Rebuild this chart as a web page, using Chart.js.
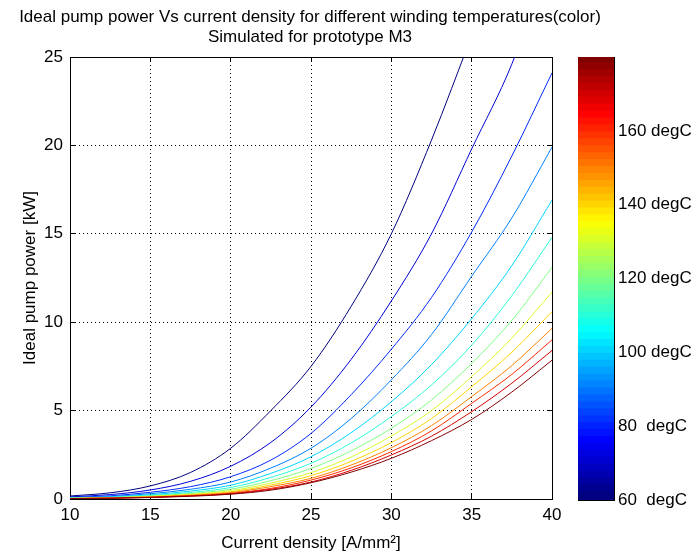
<!DOCTYPE html>
<html>
<head>
<meta charset="utf-8">
<script src="https://cdn.jsdelivr.net/npm/chart.js@4.4.1/dist/chart.umd.min.js"></script>
<style>
  body { margin: 0; background: #fff; }
  #wrap { position: relative; width: 697px; height: 552px; }
  canvas { position: absolute; top: 0; }
</style>
</head>
<body>
<div id="wrap">
  <canvas id="pump" width="697" height="552" style="left:0"></canvas>
  <canvas id="cbar" width="137" height="552" style="left:560px"></canvas>
</div>
<script>
// winding temperatures (degC), one curve each
const temps = [60, 70, 80, 90, 100, 110, 120, 130, 140, 150, 160, 170, 180];
// current density [A/mm2]
const currentDensity = [10, 12.5, 15, 17.5, 20, 22.5, 25, 27.5, 30, 32.5, 35, 37.5, 40];

// ideal pump power [kW]
const p60  = [0.17, 0.35, 0.74, 1.5, 2.87, 5.0, 7.5, 10.9, 15.0, 20.3, 26.2, null, null];
const p70  = [0.12, 0.25, 0.51, 1.0, 1.85, 3.2, 5.2, 7.9, 11.2, 15.0, 19.8, 24.6, 31.0];
const p80  = [0.09, 0.18, 0.38, 0.7, 1.26, 2.2, 3.71, 5.9, 8.47, 11.4, 15.1, 19.4, 24.1];
const p90  = [0.07, 0.14, 0.3, 0.55, 0.96, 1.75, 2.87, 4.55, 6.74, 9.3, 12.6, 15.9, 19.9];
const p100 = [0.06, 0.11, 0.24, 0.45, 0.78, 1.45, 2.39, 3.75, 5.5, 7.6, 10.2, 13.2, 16.9];
const p110 = [0.05, 0.095, 0.2, 0.37, 0.65, 1.22, 2.02, 3.17, 4.66, 6.45, 8.7, 11.5, 14.8];
const p120 = [0.04, 0.08, 0.17, 0.31, 0.55, 1.04, 1.73, 2.72, 4.0, 5.6, 7.67, 10.1, 13.1];
const p130 = [0.035, 0.07, 0.15, 0.27, 0.47, 0.9, 1.49, 2.38, 3.56, 5.0, 6.92, 9.1, 11.7];
const p140 = [0.03, 0.06, 0.13, 0.24, 0.41, 0.79, 1.32, 2.13, 3.19, 4.55, 6.35, 8.3, 10.6];
const p150 = [0.028, 0.055, 0.12, 0.21, 0.36, 0.7, 1.17, 1.92, 2.9, 4.15, 5.79, 7.55, 9.65];
const p160 = [0.025, 0.05, 0.1, 0.19, 0.32, 0.6, 1.07, 1.76, 2.68, 3.85, 5.41, 7.05, 9.0];
const p170 = [0.022, 0.045, 0.09, 0.17, 0.29, 0.55, 0.96, 1.62, 2.49, 3.55, 4.94, 6.55, 8.4];
const p180 = [0.02, 0.04, 0.085, 0.155, 0.27, 0.5, 0.92, 1.52, 2.3, 3.3, 4.5, 6.05, 7.85];
const powerCurves = [p60, p70, p80, p90, p100, p110, p120, p130, p140, p150, p160, p170, p180];

const xTicks = [10, 15, 20, 25, 30, 35, 40];
const yTicks = [0, 5, 10, 15, 20, 25];
const cbarTicks = [60, 80, 100, 120, 140, 160];

const titleLines = [
  'Ideal pump power Vs current density for different winding temperatures(color)',
  'Simulated for prototype M3'
];

// matlab style jet colormap, t in 0..1
function jet(t) {
  const c = v => Math.round(255 * Math.max(0, Math.min(1, v)));
  return 'rgb(' + c(1.5 - Math.abs(4 * t - 3)) + ',' + c(1.5 - Math.abs(4 * t - 2)) + ',' + c(1.5 - Math.abs(4 * t - 1)) + ')';
}

const FONT = "'Liberation Sans', Arial, sans-serif";
Chart.defaults.font.family = FONT;
Chart.defaults.color = '#000';

const tMin = temps[0], tMax = temps[temps.length - 1];

const datasets = powerCurves.map((vals, i) => ({
  label: temps[i] + ' degC',
  data: currentDensity.map((j, k) => ({ x: j, y: vals[k] })),
  borderColor: jet((temps[i] - tMin) / (tMax - tMin)),
  borderWidth: 1,
  pointRadius: 0,
  fill: false,
  cubicInterpolationMode: 'monotone',
  order: powerCurves.length - 1 - i
}));

const setTicks = vals => s => { s.ticks = vals.map(v => ({ value: v })); };

new Chart(document.getElementById('pump'), {
  type: 'line',
  data: { datasets },
  options: {
    responsive: false,
    animation: false,
    // title spans 0..620 so it centres over the axes; yRight eats the rest
    layout: { padding: { top: 0, right: 77, bottom: 0, left: 0 } },
    plugins: {
      legend: { display: false },
      tooltip: { enabled: false },
      title: {
        display: true,
        text: titleLines,
        color: '#000',
        font: { size: 17, weight: 'normal', lineHeight: 20 / 17 },
        padding: { top: 7, bottom: 10 }
      }
    },
    scales: {
      x: {
        type: 'linear', min: 10, max: 40,
        afterBuildTicks: setTicks(xTicks),
        afterFit: s => { s.height = 53; },
        ticks: { font: { size: 17 }, padding: 11, color: '#000' },
        grid: { color: '#000', lineWidth: 1, drawTicks: true, tickLength: -5, tickColor: '#000' },
        border: { display: true, color: '#000', width: 1, dash: [1, 3] },
        title: { display: true, text: 'Current density [A/mm\u00b2]', font: { size: 17, lineHeight: 1 }, padding: { top: 0, bottom: 0 }, color: '#000' }
      },
      xTop: {
        type: 'linear', position: 'top', min: 10, max: 40,
        afterBuildTicks: setTicks(xTicks),
        afterFit: s => { s.height = 0; },
        ticks: { display: false },
        grid: { drawOnChartArea: false, drawTicks: true, tickLength: -5, tickColor: '#000' },
        border: { display: true, color: '#000', width: 1 }
      },
      y: {
        type: 'linear', min: 0, max: 25,
        afterBuildTicks: setTicks(yTicks),
        afterFit: s => { s.width = 70; },
        ticks: { font: { size: 17 }, padding: 12, color: '#000' },
        grid: { color: '#000', lineWidth: 1, drawTicks: true, tickLength: -5, tickColor: '#000' },
        border: { display: true, color: '#000', width: 1, dash: [1, 3] },
        title: { display: true, text: 'Ideal pump power [kW]', font: { size: 17 }, padding: { top: 20, bottom: 0 }, color: '#000' }
      },
      yRight: {
        type: 'linear', position: 'right', min: 0, max: 25,
        afterBuildTicks: setTicks(yTicks),
        afterFit: s => { s.width = 68; },
        ticks: { display: false },
        grid: { drawOnChartArea: false, drawTicks: true, tickLength: -5, tickColor: '#000' },
        border: { display: true, color: '#000', width: 1 }
      }
    }
  }
});

/*
 * colorbar: stacked slices of the jet map between the lowest and highest temperature
 */
const nSlices = 64;
const sliceStep = (tMax - tMin) / nSlices;
const slices = [];
for (let i = 0; i < nSlices; i++) {
  slices.push({
    data: [[tMin + i * sliceStep, Math.min(tMax, tMin + (i + 1.2) * sliceStep)]],
    backgroundColor: jet(i / (nSlices - 1)),
    borderWidth: 0,
    grouped: false,
    barPercentage: 1,
    categoryPercentage: 1
  });
}

new Chart(document.getElementById('cbar'), {
  type: 'bar',
  data: { labels: ['colorbar'], datasets: slices },
  options: {
    responsive: false,
    animation: false,
    layout: { padding: { top: 57, right: 0, bottom: 0, left: 18 } },
    plugins: { legend: { display: false }, tooltip: { enabled: false } },
    scales: {
      x: {
        afterFit: s => { s.height = 52; },
        ticks: { display: false },
        grid: { display: false },
        border: { display: true, color: '#000', width: 1 }
      },
      xTop: {
        type: 'category', labels: ['colorbar'], position: 'top',
        afterFit: s => { s.height = 0; },
        ticks: { display: false },
        grid: { display: false },
        border: { display: true, color: '#000', width: 1 }
      },
      y: {
        position: 'right', min: tMin, max: tMax,
        afterBuildTicks: setTicks(cbarTicks),
        afterFit: s => { s.width = 83; },
        ticks: {
          font: { size: 17 }, padding: 8, color: '#000',
          callback: v => (v < 100 ? v + '  degC' : v + ' degC')
        },
        grid: { drawOnChartArea: false, drawTicks: true, tickLength: -4, tickColor: '#000' },
        border: { display: true, color: '#000', width: 1 }
      },
      yLeft: {
        position: 'left', min: tMin, max: tMax,
        afterBuildTicks: setTicks(cbarTicks),
        afterFit: s => { s.width = 0; },
        ticks: { display: false },
        grid: { drawOnChartArea: false, drawTicks: true, tickLength: -4, tickColor: '#000' },
        border: { display: true, color: '#000', width: 1 }
      }
    }
  }
});
</script>
</body>
</html>
